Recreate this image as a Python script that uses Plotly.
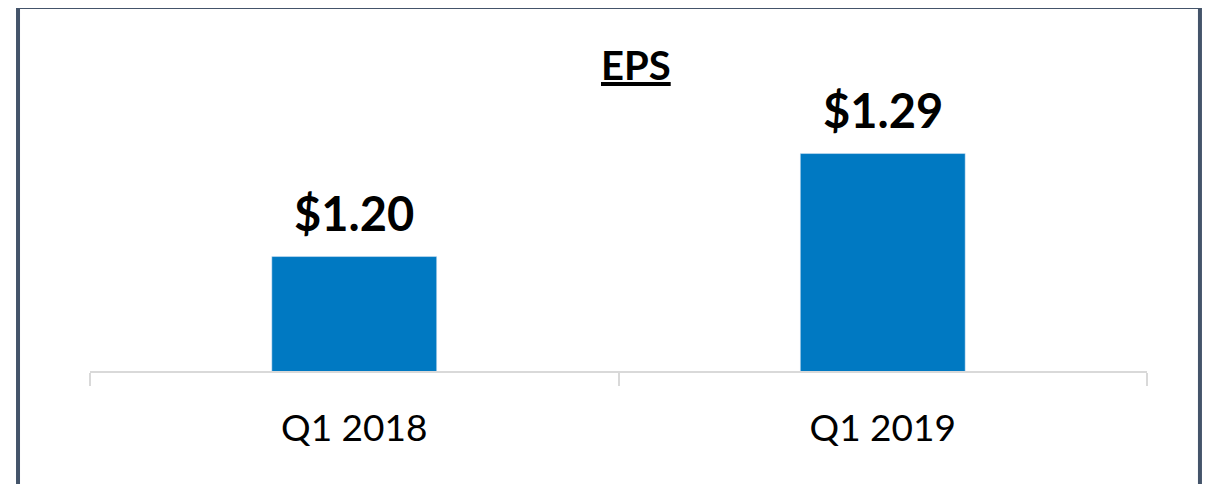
import plotly.graph_objects as go

quarters = ["Q1 2018", "Q1 2019"]
eps = [1.20, 1.29]
eps_labels = ["$1.20", "$1.29"]

fig = go.Figure()
fig.add_trace(go.Bar(x=quarters, y=eps, marker_color="#0079C2", width=0.312,
                     hoverinfo="skip"))

# value labels above the bars
for q, v, lab in zip(quarters, eps, eps_labels):
    fig.add_annotation(x=q, y=v, text=f"<b>{lab}</b>", showarrow=False,
                       yanchor="bottom", yshift=14,
                       font=dict(family="Lato", size=47, color="#000000"))

fig.add_annotation(x=0.5166, y=0.872, xref="paper", yref="paper",
                   text="<b><u>EPS</u></b>", showarrow=False, yanchor="middle",
                   font=dict(family="Lato", size=40, color="#000000"))

# outer frame
fig.add_shape(type="rect", xref="paper", yref="paper",
              x0=-0.0681, x1=1.0501, y0=-0.36, y1=1.037,
              line=dict(color="#44546A", width=4))

fig.update_xaxes(range=[-0.5, 1.5], showline=True, linecolor="#D9D9D9", linewidth=1.5,
                 ticks="outside", tickson="boundaries", ticklen=13, tickwidth=1.5,
                 tickcolor="#D9D9D9", showgrid=False, zeroline=False,
                 tickfont=dict(family="Lato", size=37, color="#000000"),
                 ticklabelstandoff=24)
fig.update_yaxes(visible=False, range=[1.10, 1.4067])
fig.update_layout(width=1211, height=484, margin=dict(l=82, r=72, t=12, b=121),
                  paper_bgcolor="white", plot_bgcolor="white", showlegend=False)

fig.write_html("out.html")
